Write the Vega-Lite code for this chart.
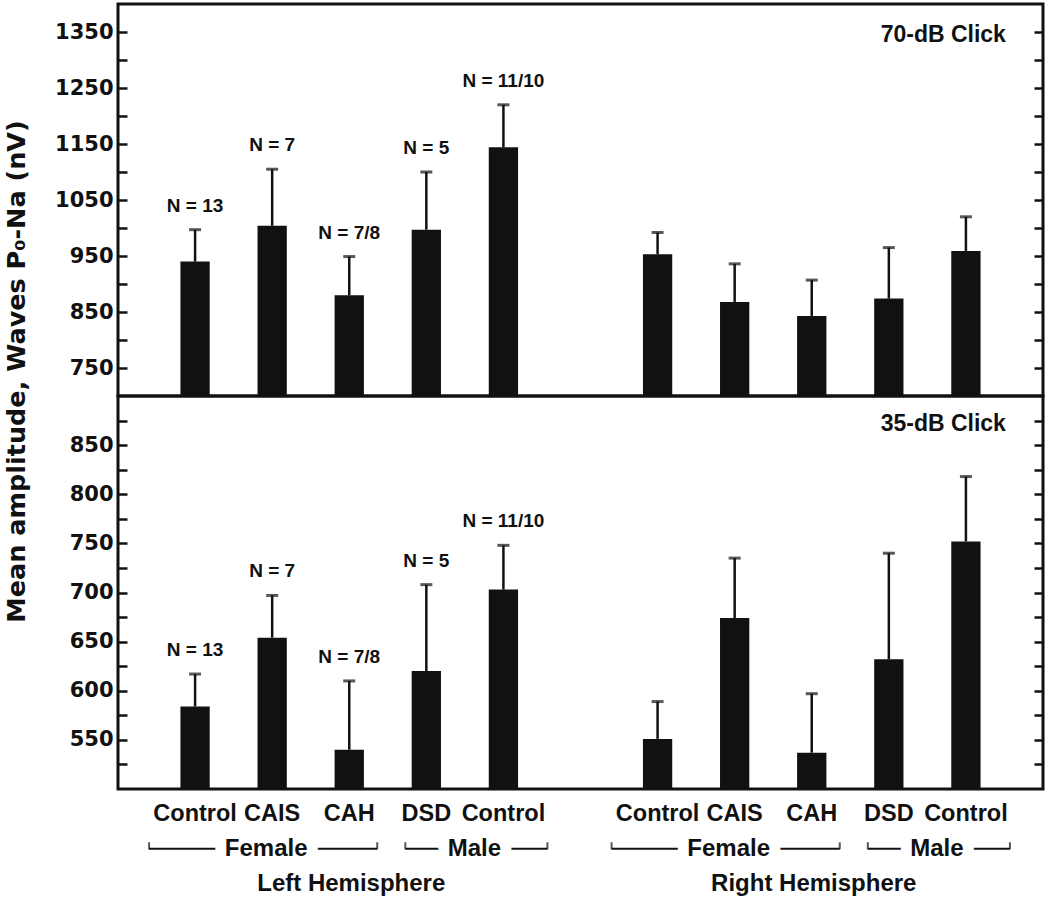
{
  "$schema": "https://vega.github.io/schema/vega-lite/v6.json",
  "background": "white",
  "padding": {"left": 2, "top": 2, "right": 2, "bottom": 0},
  "spacing": 0,
  "bounds": "flush",
  "datasets": {
    "bars": [
      {"level": "70-dB Click", "hemisphere": "Left Hemisphere", "sex": "Female", "cat": "Control", "id": "L-F-Control", "mean": 940, "upper": 997, "n": "N = 13"},
      {"level": "70-dB Click", "hemisphere": "Left Hemisphere", "sex": "Female", "cat": "CAIS", "id": "L-F-CAIS", "mean": 1004, "upper": 1105, "n": "N = 7"},
      {"level": "70-dB Click", "hemisphere": "Left Hemisphere", "sex": "Female", "cat": "CAH", "id": "L-F-CAH", "mean": 880, "upper": 949, "n": "N = 7/8"},
      {"level": "70-dB Click", "hemisphere": "Left Hemisphere", "sex": "Male", "cat": "DSD", "id": "L-M-DSD", "mean": 997, "upper": 1100, "n": "N = 5"},
      {"level": "70-dB Click", "hemisphere": "Left Hemisphere", "sex": "Male", "cat": "Control", "id": "L-M-Control", "mean": 1144, "upper": 1220, "n": "N = 11/10"},
      {"level": "70-dB Click", "hemisphere": "Right Hemisphere", "sex": "Female", "cat": "Control", "id": "R-F-Control", "mean": 953, "upper": 992, "n": ""},
      {"level": "70-dB Click", "hemisphere": "Right Hemisphere", "sex": "Female", "cat": "CAIS", "id": "R-F-CAIS", "mean": 868, "upper": 936, "n": ""},
      {"level": "70-dB Click", "hemisphere": "Right Hemisphere", "sex": "Female", "cat": "CAH", "id": "R-F-CAH", "mean": 843, "upper": 907, "n": ""},
      {"level": "70-dB Click", "hemisphere": "Right Hemisphere", "sex": "Male", "cat": "DSD", "id": "R-M-DSD", "mean": 874, "upper": 965, "n": ""},
      {"level": "70-dB Click", "hemisphere": "Right Hemisphere", "sex": "Male", "cat": "Control", "id": "R-M-Control", "mean": 959, "upper": 1020, "n": ""},
      {"level": "35-dB Click", "hemisphere": "Left Hemisphere", "sex": "Female", "cat": "Control", "id": "L-F-Control", "mean": 584, "upper": 617, "n": "N = 13"},
      {"level": "35-dB Click", "hemisphere": "Left Hemisphere", "sex": "Female", "cat": "CAIS", "id": "L-F-CAIS", "mean": 654, "upper": 697, "n": "N = 7"},
      {"level": "35-dB Click", "hemisphere": "Left Hemisphere", "sex": "Female", "cat": "CAH", "id": "L-F-CAH", "mean": 540, "upper": 610, "n": "N = 7/8"},
      {"level": "35-dB Click", "hemisphere": "Left Hemisphere", "sex": "Male", "cat": "DSD", "id": "L-M-DSD", "mean": 620, "upper": 708, "n": "N = 5"},
      {"level": "35-dB Click", "hemisphere": "Left Hemisphere", "sex": "Male", "cat": "Control", "id": "L-M-Control", "mean": 703, "upper": 748, "n": "N = 11/10"},
      {"level": "35-dB Click", "hemisphere": "Right Hemisphere", "sex": "Female", "cat": "Control", "id": "R-F-Control", "mean": 551, "upper": 589, "n": ""},
      {"level": "35-dB Click", "hemisphere": "Right Hemisphere", "sex": "Female", "cat": "CAIS", "id": "R-F-CAIS", "mean": 674, "upper": 735, "n": ""},
      {"level": "35-dB Click", "hemisphere": "Right Hemisphere", "sex": "Female", "cat": "CAH", "id": "R-F-CAH", "mean": 537, "upper": 597, "n": ""},
      {"level": "35-dB Click", "hemisphere": "Right Hemisphere", "sex": "Male", "cat": "DSD", "id": "R-M-DSD", "mean": 632, "upper": 740, "n": ""},
      {"level": "35-dB Click", "hemisphere": "Right Hemisphere", "sex": "Male", "cat": "Control", "id": "R-M-Control", "mean": 752, "upper": 818, "n": ""}
    ],
    "groups": [
      {"hemisphere": "Left Hemisphere", "sex": "Female", "first": "L-F-Control", "mid": "L-F-CAIS", "last": "L-F-CAH"},
      {"hemisphere": "Left Hemisphere", "sex": "Male", "first": "L-M-DSD", "mid": "L-M-DSD", "last": "L-M-Control"},
      {"hemisphere": "Right Hemisphere", "sex": "Female", "first": "R-F-Control", "mid": "R-F-CAIS", "last": "R-F-CAH"},
      {"hemisphere": "Right Hemisphere", "sex": "Male", "first": "R-M-DSD", "mid": "R-M-DSD", "last": "R-M-Control"}
    ],
    "hemispheres": [
      {"name": "Left Hemisphere", "mid": "L-F-CAH"},
      {"name": "Right Hemisphere", "mid": "R-F-CAH"}
    ]
  },
  "config": {
    "view": {"stroke": "#111111", "strokeWidth": 3},
    "font": "Liberation Sans",
    "text": {"font": "Liberation Sans", "fontWeight": "bold", "color": "#111111"},
    "axisY": {
      "domain": false, "grid": false, "tickSize": -9, "tickWidth": 2.5, "tickColor": "#111111", "format": "d",
      "labelFont": "DejaVu Sans", "labelFontSize": 21, "labelFontWeight": "bold", "labelColor": "#111111", "labelPadding": 14
    }
  },
  "vconcat": [
    {
      "width": 925, "height": 392,
      "data": {"name": "bars"},
      "transform": [{"filter": "datum.level === '70-dB Click'"}],
      "encoding": {
        "x": {"field": "id", "type": "nominal",
          "scale": {"domain": ["L-F-Control", "L-F-CAIS", "L-F-CAH", "L-M-DSD", "L-M-Control", "gap", "R-F-Control", "R-F-CAIS", "R-F-CAH", "R-M-DSD", "R-M-Control"], "paddingInner": 0, "paddingOuter": 0.5},
          "axis": null}
      },
      "layer": [
        {"mark": {"type": "bar", "color": "#111111", "width": {"band": 0.38}, "clip": true},
         "encoding": {"y": {"field": "mean", "type": "quantitative", "scale": {"domain": [700, 1400], "nice": false, "zero": false},
           "axis": {"title": null, "format": "d", "values": [750, 800, 850, 900, 950, 1000, 1050, 1100, 1150, 1200, 1250, 1300, 1350], "labelExpr": "datum.value % 100 == 50 ? datum.label : ''"}}}},
        {"mark": {"type": "rule", "color": "#111111", "strokeWidth": 2.5},
         "encoding": {"y": {"field": "mean", "type": "quantitative", "axis": null}, "y2": {"field": "upper"}}},
        {"mark": {"type": "tick", "orient": "horizontal", "color": "#111111", "size": 12, "thickness": 3},
         "encoding": {"y": {"field": "upper", "type": "quantitative",
           "axis": {"orient": "right", "title": null, "labels": false, "values": [750, 800, 850, 900, 950, 1000, 1050, 1100, 1150, 1200, 1250, 1300, 1350]}}}},
        {"transform": [{"filter": "datum.n"}],
         "mark": {"type": "text", "dy": -24, "fontSize": 19, "baseline": "middle"},
         "encoding": {"y": {"field": "upper", "type": "quantitative", "axis": null}, "text": {"field": "n"}}},
        {"data": {"values": [{"panel": "70-dB Click"}]},
         "mark": {"type": "text", "align": "right", "baseline": "middle", "dx": 40, "fontSize": 23},
         "encoding": {"x": {"datum": "R-M-Control"}, "y": {"datum": 1345, "axis": null}, "text": {"field": "panel"}}}
      ],
      "resolve": {"axis": {"y": "independent"}}
    },
    {
      "width": 925, "height": 393,
      "data": {"name": "bars"},
      "transform": [{"filter": "datum.level === '35-dB Click'"}],
      "encoding": {
        "x": {"field": "id", "type": "nominal",
          "scale": {"domain": ["L-F-Control", "L-F-CAIS", "L-F-CAH", "L-M-DSD", "L-M-Control", "gap", "R-F-Control", "R-F-CAIS", "R-F-CAH", "R-M-DSD", "R-M-Control"], "paddingInner": 0, "paddingOuter": 0.5},
          "axis": null}
      },
      "layer": [
        {"mark": {"type": "bar", "color": "#111111", "width": {"band": 0.38}, "clip": true},
         "encoding": {"y": {"field": "mean", "type": "quantitative", "scale": {"domain": [500, 900], "nice": false, "zero": false},
           "axis": {"title": "Mean amplitude, Waves P₀-Na (nV)", "titleFont": "DejaVu Sans", "titleFontSize": 25.5, "titleFontWeight": "bold", "titleColor": "#111111",
             "titleX": -94, "titleY": -25, "titleAngle": 270, "titleBaseline": "alphabetic", "titleAlign": "center", "format": "d",
             "values": [525, 550, 575, 600, 625, 650, 675, 700, 725, 750, 775, 800, 825, 850, 875], "labelExpr": "datum.value % 50 == 0 ? datum.label : ''"}}}},
        {"mark": {"type": "rule", "color": "#111111", "strokeWidth": 2.5},
         "encoding": {"y": {"field": "mean", "type": "quantitative", "axis": null}, "y2": {"field": "upper"}}},
        {"mark": {"type": "tick", "orient": "horizontal", "color": "#111111", "size": 12, "thickness": 3},
         "encoding": {"y": {"field": "upper", "type": "quantitative",
           "axis": {"orient": "right", "title": null, "labels": false, "values": [525, 550, 575, 600, 625, 650, 675, 700, 725, 750, 775, 800, 825, 850, 875]}}}},
        {"transform": [{"filter": "datum.n"}],
         "mark": {"type": "text", "dy": -24, "fontSize": 19, "baseline": "middle"},
         "encoding": {"y": {"field": "upper", "type": "quantitative", "axis": null}, "text": {"field": "n"}}},
        {"data": {"values": [{"panel": "35-dB Click"}]},
         "mark": {"type": "text", "align": "right", "baseline": "middle", "dx": 40, "fontSize": 23},
         "encoding": {"x": {"datum": "R-M-Control"}, "y": {"datum": 872, "axis": null}, "text": {"field": "panel"}}}
      ],
      "resolve": {"axis": {"y": "independent"}}
    },
    {
      "width": 925, "height": 115,
      "view": {"stroke": null},
      "layer": [
        {"data": {"name": "groups"}, "transform": [{"filter": "datum.sex === 'Female'"}],
         "mark": {"type": "rule", "color": "#111111", "strokeWidth": 2, "xOffset": -46, "x2Offset": 28},
         "encoding": {
           "x": {"field": "first", "type": "nominal",
             "scale": {"domain": ["L-F-Control", "L-F-CAIS", "L-F-CAH", "L-M-DSD", "L-M-Control", "gap", "R-F-Control", "R-F-CAIS", "R-F-CAH", "R-M-DSD", "R-M-Control"], "paddingInner": 0, "paddingOuter": 0.5},
             "axis": null},
           "x2": {"field": "last"},
           "y": {"datum": "group", "type": "nominal", "scale": {"type": "point", "domain": ["category", "group", "hemisphere"], "padding": 0.643, "align": 0.55}, "axis": null}}},
        {"data": {"name": "groups"}, "transform": [{"filter": "datum.sex === 'Male'"}],
         "mark": {"type": "rule", "color": "#111111", "strokeWidth": 2, "xOffset": -21, "x2Offset": 44},
         "encoding": {"x": {"field": "first", "type": "nominal"}, "x2": {"field": "last"}, "y": {"datum": "group", "type": "nominal"}}},
        {"data": {"name": "groups"}, "transform": [{"filter": "datum.sex === 'Female'"}],
         "mark": {"type": "tick", "orient": "vertical", "color": "#111111", "size": 7, "thickness": 2, "xOffset": -46, "yOffset": -3},
         "encoding": {"x": {"field": "first", "type": "nominal"}, "y": {"datum": "group", "type": "nominal"}}},
        {"data": {"name": "groups"}, "transform": [{"filter": "datum.sex === 'Female'"}],
         "mark": {"type": "tick", "orient": "vertical", "color": "#111111", "size": 7, "thickness": 2, "xOffset": 28, "yOffset": -3},
         "encoding": {"x": {"field": "last", "type": "nominal"}, "y": {"datum": "group", "type": "nominal"}}},
        {"data": {"name": "groups"}, "transform": [{"filter": "datum.sex === 'Male'"}],
         "mark": {"type": "tick", "orient": "vertical", "color": "#111111", "size": 7, "thickness": 2, "xOffset": -21, "yOffset": -3},
         "encoding": {"x": {"field": "first", "type": "nominal"}, "y": {"datum": "group", "type": "nominal"}}},
        {"data": {"name": "groups"}, "transform": [{"filter": "datum.sex === 'Male'"}],
         "mark": {"type": "tick", "orient": "vertical", "color": "#111111", "size": 7, "thickness": 2, "xOffset": 44, "yOffset": -3},
         "encoding": {"x": {"field": "last", "type": "nominal"}, "y": {"datum": "group", "type": "nominal"}}},
        {"data": {"name": "groups"}, "transform": [{"filter": "datum.sex === 'Female'"}],
         "mark": {"type": "text", "fontSize": 24, "baseline": "middle", "dx": -6, "color": "white", "stroke": "white", "strokeWidth": 22, "strokeJoin": "round"},
         "encoding": {"x": {"field": "mid", "type": "nominal"}, "y": {"datum": "group", "type": "nominal"}, "text": {"field": "sex"}}},
        {"data": {"name": "groups"}, "transform": [{"filter": "datum.sex === 'Male'"}],
         "mark": {"type": "text", "fontSize": 24, "baseline": "middle", "dx": 48, "color": "white", "stroke": "white", "strokeWidth": 22, "strokeJoin": "round"},
         "encoding": {"x": {"field": "mid", "type": "nominal"}, "y": {"datum": "group", "type": "nominal"}, "text": {"field": "sex"}}},
        {"data": {"name": "groups"}, "transform": [{"filter": "datum.sex === 'Female'"}],
         "mark": {"type": "text", "fontSize": 24, "baseline": "middle", "dx": -6},
         "encoding": {"x": {"field": "mid", "type": "nominal"}, "y": {"datum": "group", "type": "nominal"}, "text": {"field": "sex"}}},
        {"data": {"name": "groups"}, "transform": [{"filter": "datum.sex === 'Male'"}],
         "mark": {"type": "text", "fontSize": 24, "baseline": "middle", "dx": 48},
         "encoding": {"x": {"field": "mid", "type": "nominal"}, "y": {"datum": "group", "type": "nominal"}, "text": {"field": "sex"}}},
        {"data": {"name": "bars"}, "transform": [{"filter": "datum.level === '70-dB Click'"}],
         "mark": {"type": "text", "fontSize": 23.5, "baseline": "middle"},
         "encoding": {"x": {"field": "id", "type": "nominal"}, "y": {"datum": "category", "type": "nominal"}, "text": {"field": "cat"}}},
        {"data": {"name": "hemispheres"},
         "mark": {"type": "text", "fontSize": 24, "baseline": "middle", "dx": 2},
         "encoding": {"x": {"field": "mid", "type": "nominal"}, "y": {"datum": "hemisphere", "type": "nominal"}, "text": {"field": "name"}}}
      ]
    }
  ]
}
